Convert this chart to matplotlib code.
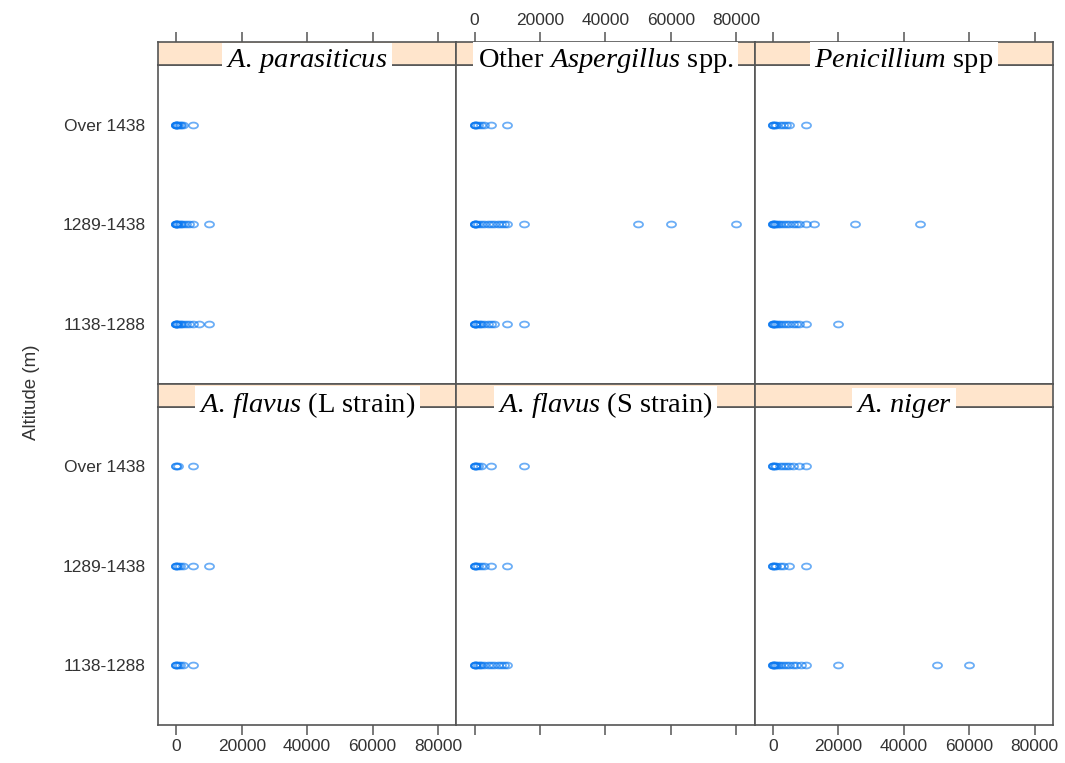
import numpy as np
import matplotlib
matplotlib.use("Agg")
import matplotlib.pyplot as plt
from matplotlib.path import Path

plt.rcParams["mathtext.fontset"] = "custom"
plt.rcParams["mathtext.rm"] = "Liberation Serif"
plt.rcParams["mathtext.it"] = "Liberation Serif:italic"

# altitude classes, bottom to top
altitudes = ["1138-1288", "1289-1438", "Over 1438"]

# panel titles, top row first
titles = [
    r"$\mathit{A.\,parasiticus}$",
    r"Other $\mathit{Aspergillus}$ spp.",
    r"$\mathit{Penicillium}$ spp",
    r"$\mathit{A.\,flavus}$ (L strain)",
    r"$\mathit{A.\,flavus}$ (S strain)",
    r"$\mathit{A.\,niger}$",
]

# counts per altitude class (low, mid, over)
parasiticus = [
    [0, 0, 0, 0, 200, 500, 1000, 1500, 2000, 3000, 4000, 5000, 7000, 10000],
    [0, 0, 0, 0, 200, 500, 1000, 1500, 2000, 3000, 4000, 5000, 10000],
    [0, 0, 0, 0, 200, 500, 1000, 1500, 2000, 5000],
]
other_asp = [
    [0, 0, 0, 200, 500, 1000, 1500, 2000, 3000, 4000, 5000, 6000, 10000, 15000],
    [0, 0, 0, 200, 500, 1000, 2000, 3000, 4000, 5000, 6000, 7000, 8000, 9000,
     10000, 15000, 50000, 60000, 80000],
    [0, 0, 0, 500, 1000, 2000, 3000, 5000, 10000],
]
penicillium = [
    [0, 0, 0, 200, 500, 1000, 1500, 2000, 3000, 4000, 5000, 6000, 7000, 8000,
     10000, 20000],
    [0, 0, 0, 200, 500, 1000, 1500, 2000, 3000, 4000, 5000, 6000, 7000, 8000,
     10000, 12500, 25000, 45000],
    [0, 0, 0, 500, 1000, 2000, 3000, 4000, 5000, 10000],
]
flavus_l = [
    [0, 0, 0, 500, 1000, 2000, 5000],
    [0, 0, 0, 500, 1000, 2000, 5000, 10000],
    [0, 0, 500, 5000],
]
flavus_s = [
    [0, 0, 0, 500, 1000, 1500, 2000, 3000, 4000, 5000, 6000, 7000, 8000, 9000,
     10000],
    [0, 0, 0, 500, 1000, 2000, 3000, 5000, 10000],
    [0, 0, 0, 500, 1000, 2000, 5000, 15000],
]
niger = [
    [0, 0, 0, 200, 500, 1000, 1500, 2000, 3000, 4000, 5000, 6000, 7000, 8500,
     10000, 20000, 50000, 60000],
    [0, 0, 0, 500, 1000, 2000, 3000, 5000, 10000],
    [0, 0, 0, 500, 1000, 2000, 3000, 4000, 5000, 6000, 8000, 10000],
]
panels = [parasiticus, other_asp, penicillium, flavus_l, flavus_s, niger]

xticks = [0, 20000, 40000, 60000, 80000]

W, H = 1065, 763
fig = plt.figure(figsize=(W / 100, H / 100), dpi=100)

def box(x0, y0, x1, y1):
    # pixel box (top-left origin) -> figure rect
    return [x0 / W, 1 - y1 / H, (x1 - x0) / W, (y1 - y0) / H]

# slightly flattened open circle
t = np.linspace(0, 2 * np.pi, 40)
ellipse = Path(np.column_stack([np.cos(t), 0.65 * np.sin(t)]), closed=True)

edge = "#555555"
col_left = [158, 456.3, 754.7]
col_w = 298.3
row_top = [42, 383.5]
row_h = 341.5
strip_h = 23
tick_font = dict(family="Liberation Sans", size=12.5)

for i, (title, data) in enumerate(zip(titles, panels)):
    r, c = divmod(i, 3)
    x0 = col_left[c]
    x1 = x0 + col_w
    top = row_top[r]
    ax = fig.add_axes(box(x0, top + strip_h, x1, top + row_h))
    for lvl, vals in enumerate(data, start=1):
        ax.plot(vals, [lvl] * len(vals), linestyle="none", marker=ellipse,
                markersize=6.5, markerfacecolor="none", markeredgecolor="#0a78f0",
                markeredgewidth=1.3, alpha=0.6)
    ax.set_xlim(-5600, 85600)
    ax.set_ylim(0.4, 3.6)
    for s in ax.spines.values():
        s.set_color(edge)
        s.set_linewidth(1.2)

    ax.set_xticks(xticks)
    ax.set_xticklabels([f"{v}" for v in xticks], fontdict=tick_font)
    if r == 0:
        ax.tick_params(axis="x", bottom=False, labelbottom=False)
    else:
        ax.tick_params(axis="x", bottom=True, direction="out", length=7,
                       width=1.1, color=edge, labelbottom=(c != 1), pad=3,
                       labelcolor="#333333")
    if c == 0:
        ax.set_yticks([1, 2, 3])
        ax.set_yticklabels(altitudes, fontdict=tick_font, color="#333333")
        ax.tick_params(axis="y", length=0, pad=9)
    else:
        ax.set_yticks([])

    # strip above the panel
    sx = fig.add_axes(box(x0, top, x1, top + strip_h))
    sx.set_facecolor("#ffe5cc")
    sx.set_xlim(-5600, 85600)
    sx.set_ylim(0, 1)
    sx.set_yticks([])
    for s in sx.spines.values():
        s.set_color(edge)
        s.set_linewidth(1.2)
    if r == 0:
        sx.set_xticks(xticks)
        sx.set_xticklabels([f"{v}" for v in xticks], fontdict=tick_font)
        sx.tick_params(axis="x", bottom=False, labelbottom=False, top=True,
                       labeltop=(c == 1), direction="out", length=7, width=1.1,
                       color=edge, pad=3, labelcolor="#333333")
    else:
        sx.set_xticks([])

    base = top + 25 if r == 0 else top + 29
    fig.text((x0 + col_w / 2) / W, 1 - base / H, title,
             family="Liberation Serif", fontsize=20.5, ha="center",
             va="baseline", color="black", zorder=10,
             bbox=dict(facecolor="white", edgecolor="none", pad=3))

fig.text(32 / W, 1 - 392 / H, "Altitude (m)", rotation=90, ha="center",
         va="center", fontsize=13.5, color="#333333", family="Liberation Sans")

fig.savefig("out.png", dpi=100)
